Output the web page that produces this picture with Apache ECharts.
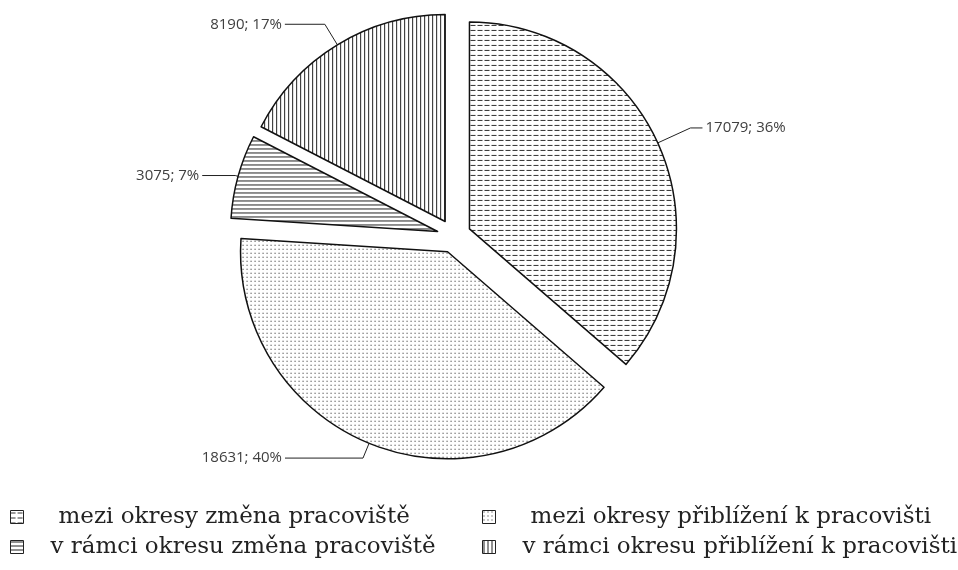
<!DOCTYPE html>
<html>
<head>
<meta charset="utf-8">
<script src="https://cdn.jsdelivr.net/npm/echarts@6/dist/echarts.min.js"></script>
<style>
  html, body { margin: 0; padding: 0; background: #fff; }
  #chart { width: 958px; height: 570px; }
</style>
</head>
<body>
<div id="chart"></div>
<script>
const categories = [
  'mezi okresy změna pracoviště',
  'mezi okresy přiblížení k pracovišti',
  'v rámci okresu změna pracoviště',
  'v rámci okresu přiblížení k pracovišti'
]
const values = [17079, 18631, 3075, 8190]

// hatch tiles drawn on small canvases
const makeTile = (w, h, draw) => {
  const c = document.createElement('canvas')
  c.width = w
  c.height = h
  const ctx = c.getContext('2d')
  ctx.fillStyle = '#fff'
  ctx.fillRect(0, 0, w, h)
  draw(ctx)
  return c
}

const patterns = [
  makeTile(7, 5, ctx => { ctx.fillStyle = '#333'; ctx.fillRect(0, 2, 5, 1) }),
  makeTile(4, 4, ctx => { ctx.fillStyle = '#222'; ctx.fillRect(1, 1, 1, 1) }),
  makeTile(1, 4, ctx => { ctx.fillStyle = '#222'; ctx.fillRect(0, 1, 1, 1) }),
  makeTile(4, 1, ctx => { ctx.fillStyle = '#222'; ctx.fillRect(1, 0, 1, 1) })
]

// leader line lengths for each slice label
const leaderLines = [
  { length: 36, length2: 12 },
  { length: 16, length2: 78 },
  { length: 3, length2: 33 },
  { length: 24, length2: 40 }
]

const chart = echarts.init(document.getElementById('chart'))

const legendText = {
  fontFamily: 'DejaVu Serif',
  fontSize: 23,
  lineHeight: 24,
  color: '#222'
}

const legendRich = {
  m: Object.assign({ padding: [0, 0, 0, 30] }, legendText),
  v: Object.assign({ padding: [0, 0, 0, 22] }, legendText)
}

const legendBase = {
  orient: 'vertical',
  top: 500,
  itemWidth: 13,
  itemHeight: 13,
  itemGap: 6,
  icon: 'rect',
  selectedMode: false,
  itemStyle: { borderColor: '#222', borderWidth: 1 },
  formatter: name => (name.startsWith('mezi') ? '{m|' : '{v|') + name + '}'
}

const option = {
  animation: false,
  backgroundColor: '#fff',
  legend: [
    Object.assign({}, legendBase, { left: 5, data: [categories[0], categories[2]], textStyle: Object.assign({ rich: legendRich }, legendText) }),
    Object.assign({}, legendBase, { left: 477, data: [categories[1], categories[3]], textStyle: Object.assign({ rich: legendRich }, legendText) })
  ],
  series: [
    {
      type: 'pie',
      center: [454, 236],
      radius: 207,
      startAngle: 90,
      clockwise: true,
      selectedMode: 'multiple',
      selectedOffset: 17,
      avoidLabelOverlap: false,
      emphasis: { disabled: true },
      itemStyle: {
        borderColor: '#111',
        borderWidth: 1.5
      },
      label: {
        show: true,
        position: 'outside',
        fontFamily: 'Open Sans',
        fontSize: 15,
        color: '#404040',
        distanceToLabelLine: 3,
        formatter: p => p.value + '; ' + Math.round(p.percent) + '%'
      },
      labelLine: {
        show: true,
        lineStyle: { color: '#222', width: 1 }
      },
      data: categories.map((name, i) => ({
        name: name,
        value: values[i],
        selected: true,
        itemStyle: { color: { image: patterns[i], repeat: 'repeat' } },
        labelLine: leaderLines[i]
      }))
    }
  ]
}

chart.setOption(option)
</script>
</body>
</html>
